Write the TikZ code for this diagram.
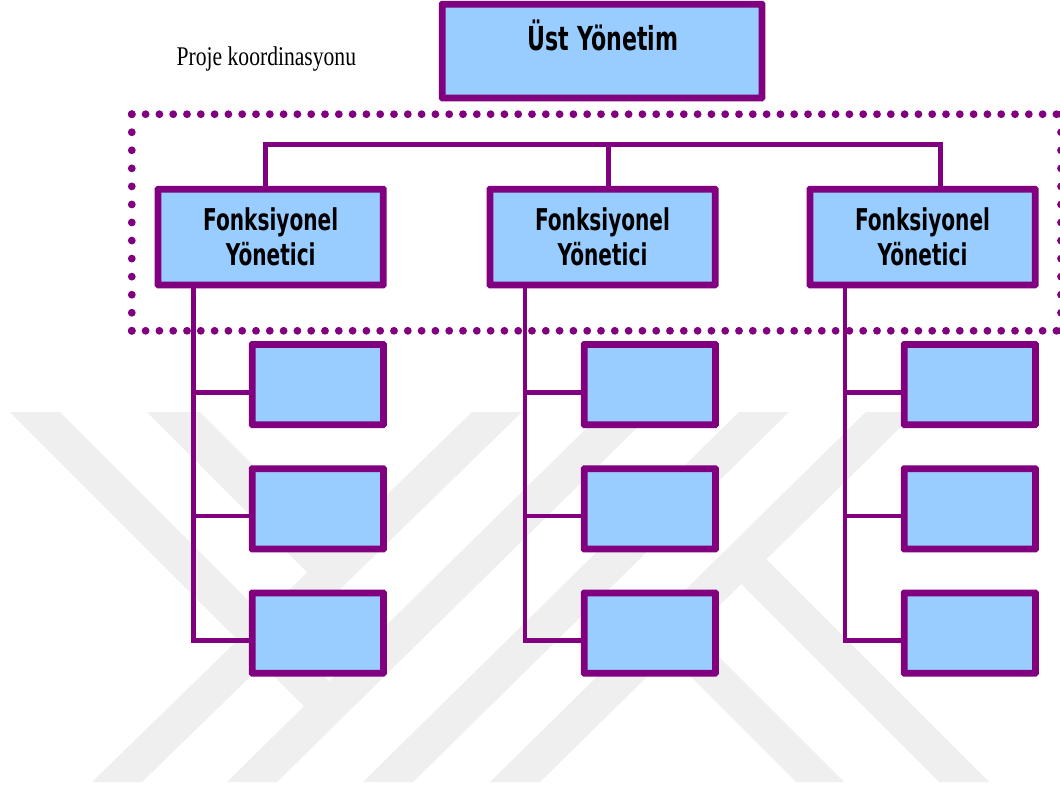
\documentclass[tikz,border=0pt]{standalone}
\usepackage{fontspec}
\setmainfont{Liberation Serif}
\newfontfamily\headfont[FakeStretch=0.67]{DejaVu Sans}
\newfontfamily\notefont[FakeStretch=0.80]{Liberation Serif}
\definecolor{plum}{RGB}{128,0,128}
\definecolor{skyfill}{RGB}{153,204,255}
\definecolor{wmgrey}{RGB}{239,239,239}

\begin{document}
\begin{tikzpicture}[x=1pt,y=-1pt,
  orgbox/.style={draw=plum, line width=4.5pt, fill=skyfill, inner sep=0pt, rounded corners=1pt},
  headbox/.style={orgbox, minimum width=223pt, minimum height=93.5pt, align=center,
    font=\headfont\bfseries\fontsize{30}{35}\selectfont},
  unitbox/.style={orgbox, minimum width=129pt, minimum height=78pt},
  link/.style={draw=plum, line width=4.3pt},
  frame/.style={draw=plum, line width=7.8pt, line cap=round},
  band/.style={fill=wmgrey}]
\clip (0,0) rectangle (1060,787);
\fill[white] (0,0) rectangle (1060,787);

% faint background emblem
\fill[band] (92,782) -- (142,782) -- (522,412) -- (472,412) -- cycle;
\fill[band] (227,782) -- (277,782) -- (653,412) -- (603,412) -- cycle;
\fill[band] (363,782) -- (413,782) -- (789,412) -- (739,412) -- cycle;
\fill[band] (490,782) -- (540,782) -- (916,412) -- (866,412) -- cycle;
\fill[band] (10,412) -- (60,412) -- (341.7,693.7) -- (316.5,718.5) -- cycle;
\fill[band] (147,412) -- (200,412) -- (345.3,557.3) -- (318.6,583.6) -- cycle;
\fill[band] (939,782) -- (989,782) -- (753.9,546.9) -- (728.7,571.7) -- cycle;
\fill[band] (796,782) -- (844,782) -- (680.8,618.8) -- (656.6,642.6) -- cycle;

% dotted coordination frame
\coordinate (fa) at (131.8,114.2);
\coordinate (fb) at (1061,114.2);
\coordinate (fc) at (1061,330.8);
\coordinate (fd) at (131.8,330.8);
\draw[frame, dash pattern=on 0pt off 13.8pt] (fa) -- (fb);
\draw[frame, dash pattern=on 0pt off 13.8pt] (fd) -- (fc);
\draw[frame, dash pattern=on 0pt off 18.05pt] (fa) -- (fd);
\draw[frame, dash pattern=on 0pt off 18.05pt] (fb) -- (fc);

% top management
\node[orgbox, minimum width=317.5pt, minimum height=91.5pt] (top) at (602,51) {};
\node[font=\headfont\bfseries\fontsize{33}{33}\selectfont, anchor=base, inner sep=0pt] (toptext) at (603,50) {Üst Yönetim};

\node[font=\notefont\fontsize{27}{27}\selectfont, anchor=base west, inner sep=0pt] (note) at (176.5,65.5) {Proje koordinasyonu};

% functional managers
\node[headbox] (f1) at (270.7,237) {Fonksiyonel\\Yönetici};
\node[headbox] (f2) at (602.5,237) {Fonksiyonel\\Yönetici};
\node[headbox] (f3) at (922.5,237) {Fonksiyonel\\Yönetici};

% bar joining the functional managers
\coordinate (bar1) at (265,144);
\coordinate (bar2) at (608.5,144);
\coordinate (bar3) at (940,144);

% branch points of the three columns
\coordinate (k11) at (193.5,392.5);
\coordinate (k12) at (193.5,516.2);
\coordinate (k13) at (193.5,640.5);
\coordinate (k21) at (525,392.5);
\coordinate (k22) at (525,516.2);
\coordinate (k23) at (525,640.5);
\coordinate (k31) at (845,392.5);
\coordinate (k32) at (845,516.2);
\coordinate (k33) at (845,640.5);

% units
\node[unitbox] (u11) at (317.75,384.5) {};
\node[unitbox] (u12) at (317.75,508.9) {};
\node[unitbox] (u13) at (317.75,633) {};
\node[unitbox] (u21) at (649.8,384.5) {};
\node[unitbox] (u22) at (649.8,508.9) {};
\node[unitbox] (u23) at (649.8,633) {};
\node[unitbox] (u31) at (969.75,384.5) {};
\node[unitbox] (u32) at (969.75,508.9) {};
\node[unitbox] (u33) at (969.75,633) {};

% connectors
\draw[link, line width=5pt] (bar1 |- f1.north) -- (bar1) -- (bar3) -- (bar3 |- f3.north);
\draw[link] (bar2) -- (bar2 |- f2.north);

\draw[link] (k11 |- f1.south) -- (k13) -- (k13 -| u13.west);
\draw[link] (k11) -- (k11 -| u11.west);
\draw[link] (k12) -- (k12 -| u12.west);

\draw[link] (k21 |- f2.south) -- (k23) -- (k23 -| u23.west);
\draw[link] (k21) -- (k21 -| u21.west);
\draw[link] (k22) -- (k22 -| u22.west);

\draw[link] (k31 |- f3.south) -- (k33) -- (k33 -| u33.west);
\draw[link] (k31) -- (k31 -| u31.west);
\draw[link] (k32) -- (k32 -| u32.west);

% box outlines drawn again over the connector ends
\foreach \b in {f1,f2,f3,u11,u12,u13,u21,u22,u23,u31,u32,u33,top}{
  \draw[draw=plum, line width=4.5pt, rounded corners=1pt] (\b.south west) rectangle (\b.north east);
}
\end{tikzpicture}
\end{document}
